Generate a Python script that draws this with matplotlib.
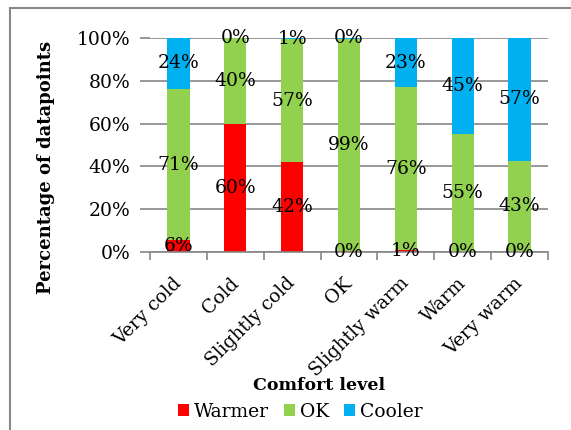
import matplotlib.pyplot as plt
import numpy as np
from matplotlib.patches import Rectangle
from matplotlib.transforms import ScaledTranslation

plt.rcParams['font.family'] = ['DejaVu Serif']

categories = ['Very cold', 'Cold', 'Slightly cold', 'OK', 'Slightly warm', 'Warm', 'Very warm']
warmer = [5.5, 60.0, 42.0, 0.3, 1.0, 0.0, 0.0]
ok = [70.7, 40.0, 57.4, 99.4, 76.0, 55.0, 42.7]
cooler = [23.8, 0.0, 0.6, 0.3, 23.0, 45.0, 57.3]
series_names = ['Warmer', 'OK', 'Cooler']
series_colors = ['#FF0000', '#92D050', '#00B0F0']

fig = plt.figure(figsize=(5.71, 4.30), dpi=100)
ax = fig.add_axes([150 / 571, 1 - 252 / 430, 398 / 571, 214 / 430])

x = np.arange(len(categories))
width = 0.39
bottom = np.zeros(len(categories))
handles = []
for vals, name, col in zip([warmer, ok, cooler], series_names, series_colors):
    vals = np.array(vals)
    bars = ax.bar(x, vals, width, bottom=bottom, color=col, label=name, zorder=2)
    for xi, b, v in zip(x, bottom, vals):
        ax.text(xi, b + v / 2, '%.0f%%' % v, ha='center', va='center',
                fontsize=13.5, zorder=3, clip_on=False)
    handles.append(bars)
    bottom += vals

ax.set_xlim(-0.5, len(categories) - 0.5)
ax.set_ylim(0, 100)
ax.set_yticks(np.arange(0, 101, 20))
ax.set_yticklabels(['%d%%' % v for v in range(0, 101, 20)], fontsize=13.5)
ax.yaxis.grid(True, color='#868686', linewidth=1.2, zorder=0)
ax.tick_params(axis='y', length=7, width=1.2, color='#868686', pad=7)

ax.set_xticks(x)
ax.set_xticklabels(categories, rotation=45, ha='right', rotation_mode='anchor', fontsize=13.5)
ax.set_xticks(np.arange(-0.5, len(categories), 1), minor=True)
ax.tick_params(axis='x', which='major', length=0, pad=8)
ax.tick_params(axis='x', which='minor', length=6, width=1.2, color='#868686')
shift = ScaledTranslation(-6 / 100, -11 / 100, fig.dpi_scale_trans)
for lbl in ax.get_xticklabels():
    lbl.set_transform(lbl.get_transform() + shift)

for s in ['top', 'right', 'left']:
    ax.spines[s].set_visible(False)
ax.spines['bottom'].set_color('#868686')
ax.spines['bottom'].set_linewidth(1.2)

ax.set_ylabel('Percentage of datapoints', fontsize=13, fontweight='bold')
ax.yaxis.set_label_coords(-0.239, 0.397)
fig.text(319 / 571, 1 - 385 / 430, 'Comfort level', fontsize=12.5, fontweight='bold',
         ha='center', va='center')

fig.legend(handles, series_names, loc='center', bbox_to_anchor=(300 / 571, 1 - 412 / 430),
           ncol=3, frameon=False, fontsize=13.5, handlelength=0.6, handleheight=0.6,
           handletextpad=0.25, columnspacing=0.8)

fig.patches.append(Rectangle((10 / 571, -0.1), 1.1, 1.1 - 8 / 430, transform=fig.transFigure,
                             fill=False, edgecolor='#888888', linewidth=1.5))

plt.savefig('out.png', dpi=100)
